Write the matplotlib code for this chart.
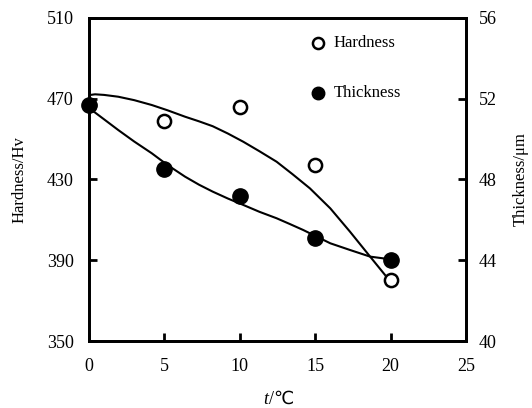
import matplotlib
matplotlib.use("Agg")
from matplotlib import pyplot as plt

plt.rcParams['font.family'] = ['Liberation Serif', 'DejaVu Sans']

# measured points
temp = [0, 5, 10, 15, 20]
hardness = [467, 459, 466, 437, 380]
thickness = [51.7, 48.5, 47.2, 45.1, 44.0]

# fitted curves
hard_curve_t = [0.0, 0.4, 1.0, 1.94, 3.0, 4.16, 5.2, 6.37, 7.3, 8.2, 9.2,
                10.23, 11.3, 12.44, 13.5, 14.65, 16.0, 17.3, 18.64, 19.63]
hard_curve_v = [471.8, 472.2, 471.9, 471.0, 469.3, 466.9, 464.3, 461.1, 458.8, 456.4, 452.8,
                448.7, 444.0, 438.8, 432.6, 425.6, 415.7, 404.2, 391.8, 382.7]
thick_curve_t = [0.0, 0.18, 1.0, 1.94, 3.0, 4.16, 5.2, 6.37, 7.3, 8.2, 9.2,
                 10.23, 11.3, 12.44, 13.3, 14.2, 15.1, 16.0, 17.3, 18.64, 19.85]
thick_curve_v = [51.6, 51.44, 50.98, 50.45, 49.88, 49.3, 48.72, 48.14, 47.74, 47.4, 47.06,
                 46.74, 46.4, 46.08, 45.8, 45.5, 45.17, 44.84, 44.51, 44.18, 44.06]

fig = plt.figure(figsize=(5.32, 4.08), dpi=100)
ax = fig.add_axes([0.1673, 0.1642, 0.7087, 0.7917])
ax2 = ax.twinx()

ax.plot(hard_curve_t, hard_curve_v, color='black', lw=1.5, zorder=2)
ax2.plot(thick_curve_t, thick_curve_v, color='black', lw=1.5, zorder=2)

ax.plot(temp, hardness, 'o', ms=9.5, mfc='white', mec='black', mew=1.8,
        linestyle='none', zorder=3)
ax2.plot(temp, thickness, 'o', ms=11, mfc='black', mec='black',
         linestyle='none', zorder=4, clip_on=False)

ax.set_xlim(0, 25)
ax.set_ylim(350, 510)
ax2.set_ylim(40, 56)
ax.set_xticks([0, 5, 10, 15, 20, 25])
ax.set_yticks([350, 390, 430, 470, 510])
ax2.set_yticks([40, 44, 48, 52, 56])

for a in (ax, ax2):
    for s in a.spines.values():
        s.set_linewidth(2)
ax.tick_params(axis='both', direction='in', length=6, width=2, labelsize=13)
ax.tick_params(axis='x', pad=12)
ax.tick_params(axis='y', pad=11)
ax2.tick_params(axis='y', direction='in', length=6, width=2, labelsize=13, pad=9)

ax.set_ylabel('Hardness/Hv', fontsize=12, labelpad=14)
ax2.set_ylabel('Thickness/μm', fontsize=12, labelpad=12)

# x label: italic t followed by /℃
fig.text(0.505, 0.0, 't', fontsize=13, style='italic', ha='right', va='bottom')
fig.text(0.505, 0.0, '/℃', fontsize=13, ha='left', va='bottom')

# legend drawn as in the figure
ax2.plot([15.2], [54.76], 'o', ms=8, mfc='white', mec='black', mew=1.8)
ax2.text(16.2, 54.76, 'Hardness', fontsize=12, va='center')
ax2.plot([15.2], [52.29], 'o', ms=9, mfc='black', mec='black')
ax2.text(16.2, 52.29, 'Thickness', fontsize=12, va='center')

fig.savefig('out.png', dpi=100)
